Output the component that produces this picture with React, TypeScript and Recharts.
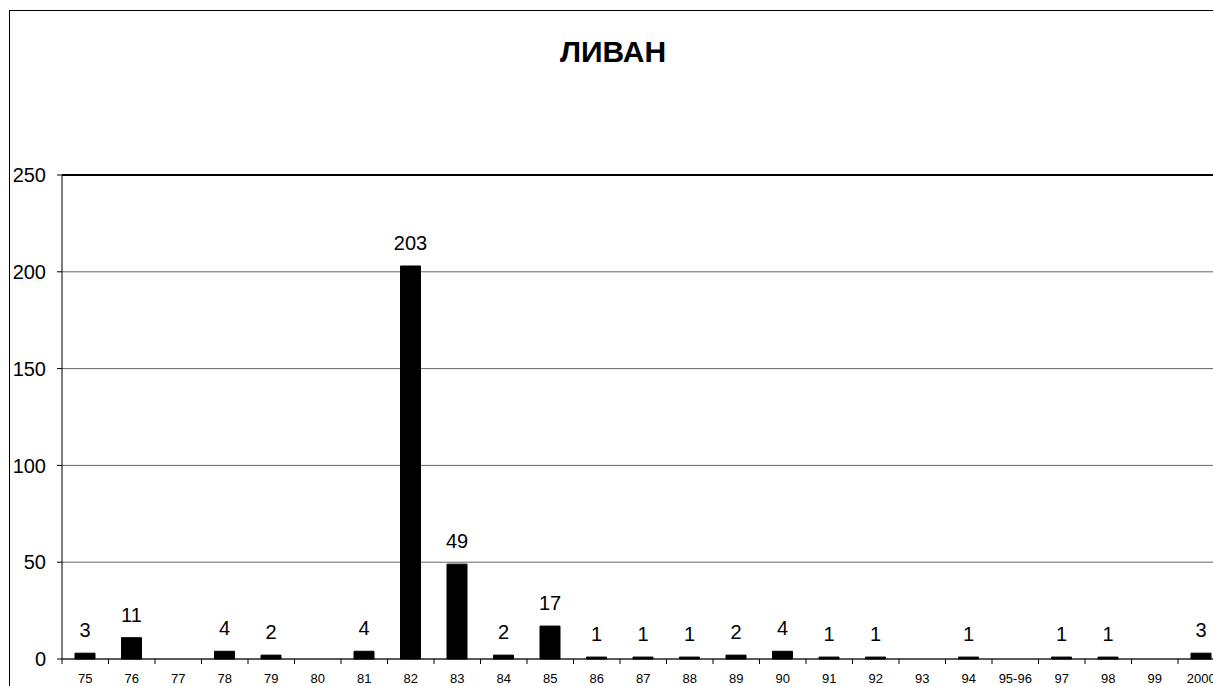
import { BarChart, Bar, XAxis, YAxis, CartesianGrid, LabelList, ReferenceLine } from 'recharts';

const years = ['75', '76', '77', '78', '79', '80', '81', '82', '83', '84', '85', '86', '87', '88', '89', '90', '91', '92', '93', '94', '95-96', '97', '98', '99', '2000'];
const counts = [3, 11, 0, 4, 2, 0, 4, 203, 49, 2, 17, 1, 1, 1, 2, 4, 1, 1, 0, 1, 0, 1, 1, 0, 3];
const yTicks = [0, 50, 100, 150, 200, 250];

const FONT = '"Liberation Sans", Arial, sans-serif';
const PLOT_LEFT = 62;
const PLOT_WIDTH = 1162.5;
const band = PLOT_WIDTH / years.length;

const data = years.map((year, i) => ({ year, count: counts[i] }));

function YearTick({ x, y, payload }: any) {
  const bx = x - band / 2;
  return (
    <g>
      <line x1={bx} y1={y - 8} x2={bx} y2={y - 3} stroke="#000" />
      <text x={x} y={y + 16} textAnchor="middle" fontSize={13} fontFamily={FONT} fill="#000">
        {payload.value}
      </text>
    </g>
  );
}

export default function App() {
  return (
    <div style={{ position: 'absolute', left: 0, top: 0, width: 1213, height: 686, overflow: 'hidden', background: '#fff' }}>
      <div
        style={{
          position: 'absolute',
          left: 9,
          top: 10,
          width: 1240,
          height: 720,
          borderTop: '1px solid #000',
          borderLeft: '1px solid #000',
        }}
      />
      <div
        style={{
          position: 'absolute',
          left: 0,
          width: 1226,
          top: 34,
          textAlign: 'center',
          fontFamily: FONT,
          fontWeight: 'bold',
          fontSize: 30,
          lineHeight: '36px',
        }}
      >
        ЛИВАН
      </div>
      <div style={{ position: 'absolute', left: 0, top: 0 }}>
        <BarChart
          width={1240}
          height={686}
          data={data}
          margin={{ top: 175, left: PLOT_LEFT - 50, right: 1240 - PLOT_LEFT - PLOT_WIDTH, bottom: 0 }}
        >
          <CartesianGrid vertical={false} stroke="#666" />
          <XAxis
            dataKey="year"
            interval={0}
            height={27}
            axisLine={{ stroke: '#000' }}
            tickLine={false}
            tick={<YearTick />}
          />
          <YAxis
            width={50}
            domain={[0, 250]}
            ticks={yTicks}
            axisLine={{ stroke: '#000' }}
            tickLine={{ stroke: '#000' }}
            tickSize={5}
            tickMargin={11}
            tick={{ fontSize: 20, fontFamily: FONT, fill: '#000' }}
          />
          <ReferenceLine y={250} stroke="#000" strokeWidth={2} />
          <Bar dataKey="count" fill="#000" stroke="#000" strokeWidth={1} barSize={20} isAnimationActive={false}>
            <LabelList
              dataKey="count"
              position="top"
              offset={16}
              fontSize={20}
              fontFamily={FONT}
              fill="#000"
              formatter={(v: any) => (v === 0 ? '' : v)}
            />
          </Bar>
        </BarChart>
      </div>
    </div>
  );
}
